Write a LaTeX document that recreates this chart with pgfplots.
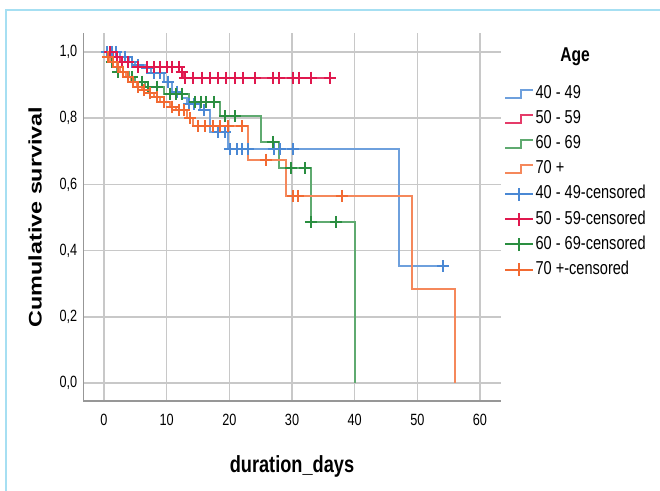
\documentclass[border=0pt]{standalone}
\usepackage{fontspec}
\setmainfont{Liberation Sans}[FakeStretch=0.78]
\newfontfamily\plainsans{Liberation Sans}
\usepackage{graphicx}
\usepackage{pgfplots}
\pgfplotsset{compat=1.18}
\definecolor{cblue}{HTML}{4A88D4}
\definecolor{cred}{HTML}{E0184E}
\definecolor{cgreen}{HTML}{2A8E40}
\definecolor{corange}{HTML}{F26A32}
\colorlet{lblue}{cblue!80!white}
\colorlet{lred}{cred!85!white}
\colorlet{lgreen}{cgreen!75!white}
\colorlet{lorange}{corange!80!white}
\definecolor{framecol}{HTML}{A6DFF2}
\definecolor{gridgray}{HTML}{C8C8C8}
\definecolor{axisgray}{HTML}{979797}

\pgfplotstableread{
t s
0 1.0
2.5 0.985
4.0 0.970
5.0 0.960
6.5 0.950
7.5 0.935
9.5 0.910
10.8 0.880
12.5 0.860
13.2 0.844
15.3 0.824
16.9 0.759
19.8 0.706
47.0 0.353
54.2 0.353
}\bluestep
\pgfplotstableread{
t s
0.5 1.0
1.2 1.0
1.9 1.0
3.3 0.985
4.4 0.970
5.5 0.960
6.8 0.950
7.9 0.935
9.0 0.935
10.2 0.910
11.6 0.880
13.6 0.844
14.4 0.844
16.0 0.824
18.2 0.759
19.3 0.759
20.1 0.706
21.2 0.706
22.0 0.706
23.0 0.706
27.1 0.706
28.1 0.706
30.1 0.706
54.1 0.353
}\bluecens
\pgfplotstableread{
t s
0 1.0
1.5 0.985
2.5 0.970
4.4 0.955
12.0 0.938
12.8 0.922
36.6 0.922
}\redstep
\pgfplotstableread{
t s
1.0 1.0
2.0 0.985
2.8 0.970
3.8 0.970
5.5 0.955
6.8 0.955
7.9 0.955
8.9 0.955
10.0 0.955
10.8 0.955
11.9 0.955
12.4 0.938
12.9 0.922
14.2 0.922
15.6 0.922
16.9 0.922
18.2 0.922
19.5 0.922
20.9 0.922
22.2 0.922
24.1 0.922
27.0 0.922
28.0 0.922
30.1 0.922
31.1 0.922
33.0 0.922
36.0 0.922
}\redcens
\pgfplotstableread{
t s
0 1.0
1.0 0.970
1.5 0.955
2.0 0.940
4.0 0.925
5.0 0.910
6.5 0.895
9.5 0.874
13.5 0.849
18.5 0.806
25.0 0.728
28.0 0.648
33.0 0.487
40.0 0.0
}\greenstep
\pgfplotstableread{
t s
1.2 0.970
2.3 0.940
3.0 0.940
4.5 0.925
6.0 0.910
7.0 0.895
8.5 0.895
10.5 0.874
11.5 0.874
12.5 0.874
14.5 0.849
15.5 0.849
16.3 0.849
17.5 0.849
19.3 0.806
20.9 0.806
27.0 0.728
29.9 0.648
32.1 0.648
33.0 0.487
37.1 0.487
}\greencens
\pgfplotstableread{
t s
0 1.0
0.5 0.985
1.0 0.970
2.0 0.955
2.5 0.940
3.5 0.925
4.3 0.910
5.2 0.895
6.0 0.885
7.0 0.875
8.0 0.865
9.0 0.850
10.5 0.835
11.5 0.824
13.3 0.800
14.2 0.776
23.0 0.675
29.0 0.565
49.1 0.284
56.0 0.0
}\orangestep
\pgfplotstableread{
t s
0.7 0.985
1.5 0.970
2.2 0.955
3.0 0.940
3.8 0.925
4.6 0.910
5.5 0.895
6.4 0.885
7.4 0.875
8.4 0.865
9.5 0.850
10.9 0.835
12.0 0.824
12.7 0.824
13.7 0.800
15.0 0.776
16.1 0.776
17.4 0.776
18.5 0.776
19.8 0.776
22.0 0.776
25.9 0.675
30.1 0.565
31.0 0.565
37.9 0.565
}\orangecens

\begin{document}
\begin{tikzpicture}
\path[use as bounding box] (0,0) rectangle (495pt,368.25pt);
\draw[framecol, line width=1.2pt] (4.5pt,0pt) -- (4.5pt,360.75pt) -- (495pt,360.75pt);
\begin{axis}[
  at={(62.5pt,67.5pt)}, anchor=south west,
  scale only axis, width=313pt, height=276pt,
  xmin=-3.3, xmax=63.3, ymin=-0.054, ymax=1.057,
  axis x line=bottom, axis y line=left,
  axis line style={-, draw=axisgray, line width=1.2pt},
  major tick length=0pt,
  xtick={0,10,20,30,40,50,60},
  ytick={0,0.2,0.4,0.6,0.8,1.0},
  grid=major, grid style={draw=gridgray, line width=1.1pt},
  /pgf/number format/assume math mode=true,
  yticklabel style={/pgf/number format/.cd, fixed, fixed zerofill, precision=1, use comma, /tikz/.cd, font=\fontsize{12.2}{14}\selectfont, xshift=-1pt},
  xticklabel style={font=\fontsize{12.2}{14}\selectfont, yshift=-6.5pt},
  xlabel={duration\_days},
  xlabel style={at={(axis description cs:0.5,-0.147)}, anchor=north, inner sep=0pt, font=\bfseries\fontsize{17.5}{20}\selectfont},
  ylabel={\scalebox{1}[0.78]{\plainsans\bfseries\fontsize{17.5}{20}\selectfont Cumulative survival}},
  ylabel style={at={(axis description cs:-0.1157,0.5)}, anchor=center, inner sep=0pt},
  legend style={at={(axis description cs:1.008,0.862)}, anchor=north west, draw=none, fill=none, inner sep=0pt,
    row sep=3.8pt, font=\fontsize{14}{16}\selectfont,
    nodes={inner sep=1pt, text height=10pt, text depth=3pt}},
  legend cell align=left,
]
\addplot[const plot, color=lblue, line width=1.5pt,
  legend image code/.code={\draw[lblue, line width=1.5pt] (0pt,-3pt) -- (12pt,-3pt) -- (12pt,3pt) -- (21pt,3pt);}]
  table[x=t, y=s] {\bluestep};
\addlegendentry{40 - 49}
\addplot[const plot, color=lred, line width=1.5pt,
  legend image code/.code={\draw[lred, line width=1.5pt] (0pt,-3pt) -- (12pt,-3pt) -- (12pt,3pt) -- (21pt,3pt);}]
  table[x=t, y=s] {\redstep};
\addlegendentry{50 - 59}
\addplot[const plot, color=lgreen, line width=1.5pt,
  legend image code/.code={\draw[lgreen, line width=1.5pt] (0pt,-3pt) -- (12pt,-3pt) -- (12pt,3pt) -- (21pt,3pt);}]
  table[x=t, y=s] {\greenstep};
\addlegendentry{60 - 69}
\addplot[const plot, color=lorange, line width=1.5pt,
  legend image code/.code={\draw[lorange, line width=1.5pt] (0pt,-3pt) -- (12pt,-3pt) -- (12pt,3pt) -- (21pt,3pt);}]
  table[x=t, y=s] {\orangestep};
\addlegendentry{70 +}
\addplot[only marks, mark=+, mark size=4.5pt, color=cblue, mark options={line width=1.5pt},
  legend image code/.code={\draw[cblue, line width=1.5pt] (0pt,0pt) -- (21pt,0pt) (10.5pt,-5pt) -- (10.5pt,5pt);}]
  table[x=t, y=s] {\bluecens};
\addlegendentry{40 - 49-censored}
\addplot[only marks, mark=+, mark size=4.5pt, color=cred, mark options={line width=1.5pt},
  legend image code/.code={\draw[cred, line width=1.5pt] (0pt,0pt) -- (21pt,0pt) (10.5pt,-5pt) -- (10.5pt,5pt);}]
  table[x=t, y=s] {\redcens};
\addlegendentry{50 - 59-censored}
\addplot[only marks, mark=+, mark size=4.5pt, color=cgreen, mark options={line width=1.5pt},
  legend image code/.code={\draw[cgreen, line width=1.5pt] (0pt,0pt) -- (21pt,0pt) (10.5pt,-5pt) -- (10.5pt,5pt);}]
  table[x=t, y=s] {\greencens};
\addlegendentry{60 - 69-censored}
\addplot[only marks, mark=+, mark size=4.5pt, color=corange, mark options={line width=1.5pt},
  legend image code/.code={\draw[corange, line width=1.5pt] (0pt,0pt) -- (21pt,0pt) (10.5pt,-5pt) -- (10.5pt,5pt);}]
  table[x=t, y=s] {\orangecens};
\addlegendentry{70 +-censored}
\end{axis}
\node[font=\bfseries\fontsize{15}{17}\selectfont] at (431.25pt,325.5pt) {Age};
\end{tikzpicture}
\end{document}
